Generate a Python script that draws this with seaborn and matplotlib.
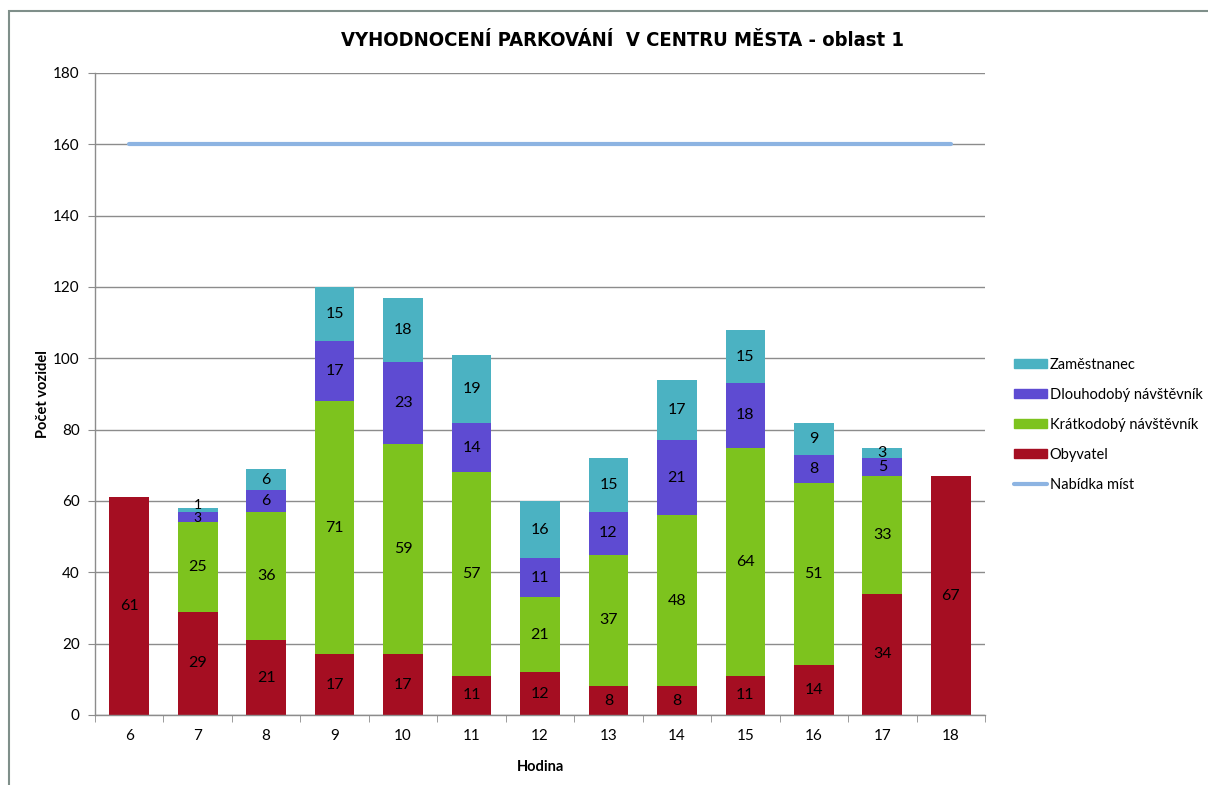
import numpy as np
import pandas as pd
import matplotlib
matplotlib.use("Agg")
import matplotlib.pyplot as plt
import seaborn as sns
from matplotlib.patches import Patch, Rectangle
from matplotlib.lines import Line2D
from matplotlib.ticker import FixedLocator, NullFormatter

hodiny = ["6", "7", "8", "9", "10", "11", "12", "13", "14", "15", "16", "17", "18"]
obyvatel = [61, 29, 21, 17, 17, 11, 12, 8, 8, 11, 14, 34, 67]
kratkodoby = [0, 25, 36, 71, 59, 57, 21, 37, 48, 64, 51, 33, 0]
dlouhodoby = [0, 3, 6, 17, 23, 14, 11, 12, 21, 18, 8, 5, 0]
zamestnanec = [0, 1, 6, 15, 18, 19, 16, 15, 17, 15, 9, 3, 0]
nabidka = [160] * 13

serie = ["Obyvatel", "Krátkodobý návštěvník", "Dlouhodobý návštěvník", "Zaměstnanec"]
barvy = {"Obyvatel": "#A50E22", "Krátkodobý návštěvník": "#7DC31E",
         "Dlouhodobý návštěvník": "#5E4BD2", "Zaměstnanec": "#4BB2C2"}
c_line = "#8DB4E2"

df = pd.DataFrame({"Hodina": hodiny, "Obyvatel": obyvatel,
                   "Krátkodobý návštěvník": kratkodoby,
                   "Dlouhodobý návštěvník": dlouhodoby,
                   "Zaměstnanec": zamestnanec})
cum = df[serie].cumsum(axis=1)

sns.set_style("white")
plt.rcParams["font.family"] = ["Lato", "DejaVu Sans"]
plt.rcParams["text.color"] = "black"
plt.rcParams["axes.labelcolor"] = "black"
plt.rcParams["xtick.color"] = "black"
plt.rcParams["ytick.color"] = "black"

fig = plt.figure(figsize=(12.08, 7.85), dpi=100)
ax = fig.add_axes([95 / 1208, 1 - 715 / 785, 890 / 1208, 642 / 785])

# grid behind
ax.set_axisbelow(True)
ax.yaxis.grid(True, color="#8c8c8c", lw=1)

# stacked bars: draw cumulative totals, tallest first
for s in reversed(serie):
    sns.barplot(x=df["Hodina"], y=cum[s], order=hodiny, color=barvy[s],
                width=0.58, saturation=1, ax=ax, edgecolor="none")

# segment labels; thin segments (<5) get a smaller font and are pushed
# apart a little so stacked small numbers do not collide
for i in range(len(hodiny)):
    base = 0
    small = [s for s in serie if 0 < df[s].iloc[i] < 5]
    for s in serie:
        v = df[s].iloc[i]
        if v > 0:
            y = base + v / 2
            fs = 11.5
            if v < 5 and len(small) > 1:
                fs = 10
                y += 1.3 if s == small[-1] else -0.4
            ax.text(i, y, str(v), ha="center", va="center",
                    fontsize=fs, color="black")
        base += v

sns.lineplot(x=np.arange(len(hodiny)), y=nabidka, color=c_line, lw=3, ax=ax)

ax.set_xlim(-0.5, len(hodiny) - 0.5)
ax.set_ylim(0, 180)
ax.set_yticks(range(0, 181, 20))
ax.tick_params(axis="y", labelsize=11, length=5, color="#8c8c8c", labelcolor="black",
               direction="out", left=True, pad=6)
ax.tick_params(axis="x", which="major", labelsize=11, length=0, pad=10, labelcolor="black")
ax.xaxis.set_minor_locator(FixedLocator(np.arange(-0.5, len(hodiny), 1)))
ax.xaxis.set_minor_formatter(NullFormatter())
ax.tick_params(axis="x", which="minor", length=5, color="#8c8c8c", direction="out", bottom=True)

for side in ["top", "right"]:
    ax.spines[side].set_visible(False)
for side in ["left", "bottom"]:
    ax.spines[side].set_color("#8c8c8c")
    ax.spines[side].set_linewidth(1)

ax.set_xlabel("Hodina", fontsize=10.5, fontweight="bold", labelpad=12)
ax.set_ylabel("Počet vozidel", fontsize=10.5, fontweight="bold", labelpad=2)

fig.text(0.515, 1 - 40 / 785, "VYHODNOCENÍ PARKOVÁNÍ  V CENTRU MĚSTA - oblast 1",
         ha="center", va="center", fontsize=14.5, fontweight="heavy",
         fontstretch="condensed", family=["DejaVu Sans"], color="black")

handles = [Patch(color=barvy["Zaměstnanec"], label="Zaměstnanec"),
           Patch(color=barvy["Dlouhodobý návštěvník"], label="Dlouhodobý návštěvník"),
           Patch(color=barvy["Krátkodobý návštěvník"], label="Krátkodobý návštěvník"),
           Patch(color=barvy["Obyvatel"], label="Obyvatel"),
           Line2D([0], [0], color=c_line, lw=3, label="Nabídka míst")]
fig.legend(handles=handles, loc="upper left", bbox_to_anchor=(1008 / 1208, 1 - 352 / 785),
           frameon=False, fontsize=10.5, handlelength=2.3, handleheight=0.6,
           labelspacing=1.1, handletextpad=0.15, borderaxespad=0)

# outer frame (top and left edges visible)
fig.add_artist(Rectangle((9 / 1208, -0.05), 1.2, 1 - 11 / 785 + 0.05,
                         transform=fig.transFigure, fill=False,
                         edgecolor="#7f8f8a", lw=1.5))

fig.savefig("out.png", dpi=100)
